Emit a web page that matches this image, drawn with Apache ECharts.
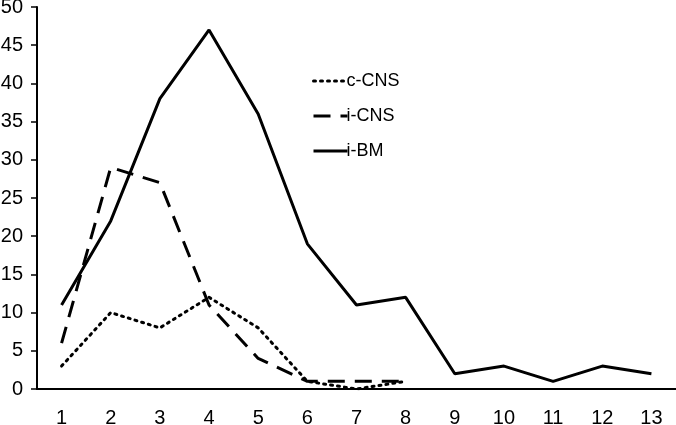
<!DOCTYPE html>
<html>
<head>
<meta charset="utf-8">
<script src="https://cdn.jsdelivr.net/npm/echarts@6/dist/echarts.min.js"></script>
<style>
  html, body { margin: 0; padding: 0; background: #fff; }
  #chart { width: 676px; height: 425px; }
</style>
</head>
<body>
<div id="chart"></div>
<script>
const categories = ['1', '2', '3', '4', '5', '6', '7', '8', '9', '10', '11', '12', '13'];
const cCNS = [3, 10, 8, 12, 8, 1, 0, 1];
const iCNS = [6, 29, 27, 11, 4, 1, 1, 1];
const iBM = [11, 22, 38, 47, 36, 19, 11, 12, 2, 3, 1, 3, 2];

const font = 'Liberation Sans, Arial, sans-serif';
const chart = echarts.init(document.getElementById('chart'));

chart.setOption({
  animation: false,
  color: ['#000', '#000', '#000'],
  grid: { left: 37, right: 0, top: 7, bottom: 36, outerBoundsMode: 'none', containLabel: false },
  legend: {
    orient: 'vertical',
    left: 307,
    top: 67,
    itemWidth: 34,
    itemHeight: 18,
    itemGap: 17,
    itemStyle: { opacity: 0 },
    lineStyle: { width: 3 },
    textStyle: { fontFamily: font, fontSize: 18, color: '#000', padding: [0, 0, 0, -6] },
    data: ['c-CNS', 'i-CNS', 'i-BM']
  },
  xAxis: {
    type: 'category',
    data: categories,
    boundaryGap: true,
    axisLine: { lineStyle: { color: '#000', width: 2 } },
    axisTick: { length: 6, lineStyle: { color: '#000', width: 1.5 } },
    axisLabel: { color: '#000', fontFamily: font, fontSize: 20, margin: 19 }
  },
  yAxis: {
    type: 'value',
    min: 0,
    max: 50,
    interval: 5,
    splitLine: { show: false },
    axisLine: { show: true, lineStyle: { color: '#000', width: 2 } },
    axisTick: { show: true, length: 6, lineStyle: { color: '#000', width: 1.5 } },
    axisLabel: { color: '#000', fontFamily: font, fontSize: 20, margin: 14 }
  },
  series: [
    {
      name: 'c-CNS',
      type: 'line',
      data: cCNS,
      symbol: 'none',
      lineStyle: { color: '#000', width: 3, type: [2, 5], cap: 'round' }
    },
    {
      name: 'i-CNS',
      type: 'line',
      data: iCNS,
      symbol: 'none',
      lineStyle: { color: '#000', width: 3, type: [17, 10] }
    },
    {
      name: 'i-BM',
      type: 'line',
      data: iBM,
      symbol: 'none',
      lineStyle: { color: '#000', width: 3 }
    }
  ]
});
</script>
</body>
</html>
